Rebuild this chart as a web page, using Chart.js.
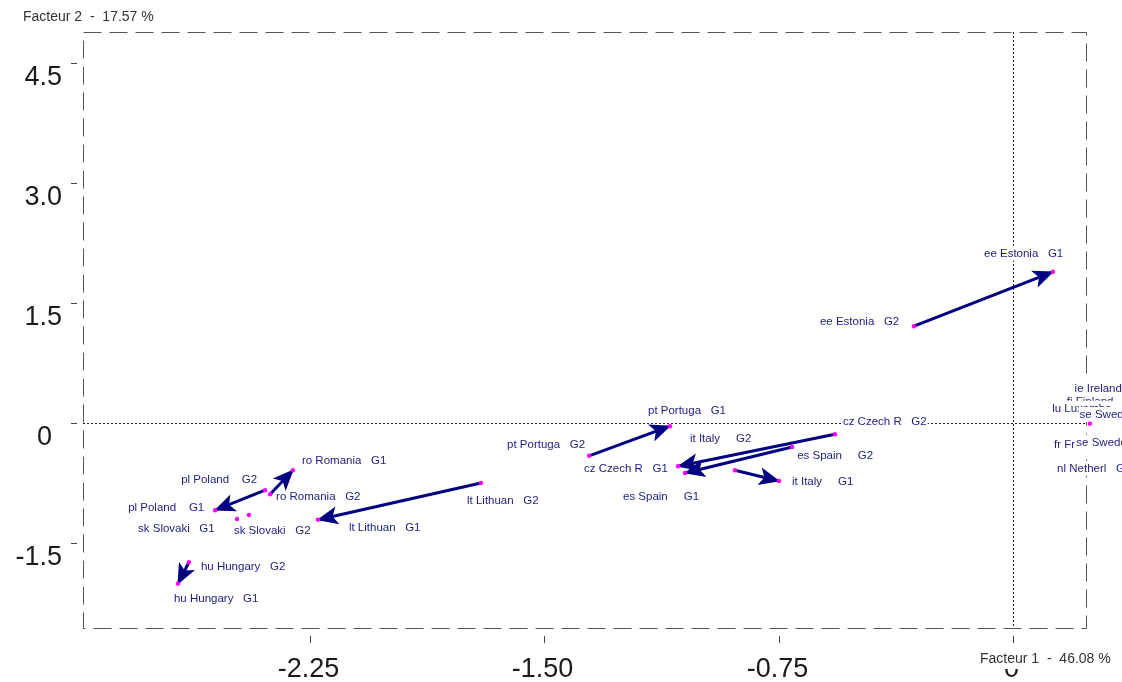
<!DOCTYPE html>
<html><head><meta charset="utf-8">
<script src="https://cdn.jsdelivr.net/npm/chart.js@4.4.1/dist/chart.umd.min.js"></script>
<style>html,body{margin:0;padding:0;background:#fff}#wrap{width:1122px;height:682px;position:relative}</style>
</head><body><div id="wrap"><canvas id="c"></canvas></div>
<script>
// ---- data ----
const pointLabels = [
  'ee Estonia   G1','ee Estonia   G2',
  'pt Portuga   G1','pt Portuga   G2',
  'cz Czech R   G1','cz Czech R   G2',
  'es Spain     G1','es Spain     G2',
  'it Italy     G1','it Italy     G2',
  'lt Lithuan   G1','lt Lithuan   G2',
  'ro Romania   G1','ro Romania   G2',
  'pl Poland    G1','pl Poland    G2',
  'sk Slovaki   G1','sk Slovaki   G2',
  'hu Hungary   G1','hu Hungary   G2',
  'fi Finland   G1','ie Ireland   G1','lu Luxembo   G1','se Sweden    G1',
  'fr France    G1','se Sweden    G2','nl Netherl   G1'
];
const factor1 = [0.128,-0.317, -1.098,-1.357, -1.072,-0.570, -1.050,-0.707, -0.749,-0.890,
  -2.225,-1.703, -2.305,-2.378, -2.554,-2.394, -2.484,-2.446, -2.673,-2.638,
  0.246,0.258,0.247,0.258,0.250,0.254,0.250];
const factor2 = [1.89,1.21, -0.04,-0.41, -0.54,-0.14, -0.625,-0.30, -0.725,-0.59,
  -1.21,-0.75, -0.59,-0.89, -1.09,-0.84, -1.20,-1.15, -2.01,-1.74,
  -0.01,-0.015,-0.06,-0.05,-0.07,-0.035,-0.425];
const arrowFrom = [1,3,5,7,9,11,13,15,19];
const arrowTo   = [0,2,4,6,8,10,12,14,18];
const xTickValues = [-2.25,-1.50,-0.75,0];
const xTickLabels = ['-2.25','-1.50','-0.75','0'];
const yTickValues = [4.5,3.0,1.5,0,-1.5];
const yTickLabels = ['4.5','3.0','1.5','0','-1.5'];
const xTitle = 'Facteur 1  -  46.08 %';
const yTitle = 'Facteur 2  -  17.57 %';

// ---- label placement (pixels relative to point) ----
const labelOffsets = [
  [-69,-18],[-94,-4],
  [-22,-15],[-82,-11],
  [-94,3],[8,-12],
  [-62,24],[5,9],
  [13,1],[-45,-31],
  [31,8],[-14,18],
  [9,-9],[6,3],
  [-87,-2],[-84,-10],
  [-99,10],[-15,16],
  [-4,15],[12,5],
  [-23,-22],[-19,-35],[-38,-19],[-14,-12],
  [-37,16],[-16,17],[-34,12]
];

const NAVY = '#000080';
const LABEL_COLOR = '#1c1c84';
const LABEL_FONT = '11.5px "Liberation Sans", Arial, sans-serif';
const TICK_FONT = '27px "Liberation Sans", Arial, sans-serif';
const TITLE_FONT = '14px "Liberation Sans", Arial, sans-serif';

const decor = {
  id: 'decor',
  beforeDatasetsDraw(chart) {
    const {ctx, chartArea: a, scales: {x, y}} = chart;
    ctx.save();
    // dashed frame
    ctx.strokeStyle = '#555';
    ctx.lineWidth = 1;
    ctx.setLineDash([18, 8]);
    ctx.strokeRect(a.left + 0.5, a.top + 0.5, a.right - a.left, a.bottom - a.top);
    // dotted zero lines
    ctx.setLineDash([2, 2]);
    ctx.strokeStyle = '#222';
    const x0 = Math.round(x.getPixelForValue(0)) + 0.5;
    const y0 = Math.round(y.getPixelForValue(0)) + 0.5;
    ctx.beginPath();
    ctx.moveTo(a.left, y0); ctx.lineTo(a.right, y0);
    ctx.moveTo(x0, a.top); ctx.lineTo(x0, a.bottom);
    ctx.stroke();
    ctx.setLineDash([]);
    // ticks
    ctx.strokeStyle = '#444';
    ctx.fillStyle = '#1a1a1a';
    ctx.font = TICK_FONT;
    yTickValues.forEach((v, i) => {
      const py = Math.round(y.getPixelForValue(v)) + 0.5;
      ctx.beginPath(); ctx.moveTo(71, py); ctx.lineTo(77, py); ctx.stroke();
      ctx.textAlign = 'right'; ctx.textBaseline = 'alphabetic';
      const lab = yTickLabels[i];
      ctx.fillText(lab, lab.length === 1 ? 52 : 62, py + 21);
    });
    xTickValues.forEach((v, i) => {
      const px = Math.round(x.getPixelForValue(v)) + 0.5;
      ctx.beginPath(); ctx.moveTo(px, a.bottom + 8); ctx.lineTo(px, a.bottom + 15); ctx.stroke();
      ctx.textAlign = 'center'; ctx.textBaseline = 'alphabetic';
      ctx.fillText(xTickLabels[i], px - 2, 677);
    });
    // titles with white background
    ctx.font = TITLE_FONT;
    ctx.textAlign = 'left'; ctx.textBaseline = 'middle';
    const drawTitle = (t, tx, ty) => {
      const w = ctx.measureText(t).width;
      ctx.fillStyle = '#fff';
      ctx.fillRect(tx - 2, ty - 9, w + 4, 19);
      ctx.fillStyle = '#333';
      ctx.fillText(t, tx, ty);
    };
    drawTitle(yTitle, 23, 17);
    drawTitle(xTitle, 980, 659);
    // point labels with white background
    ctx.font = LABEL_FONT;
    pointLabels.forEach((t, i) => {
      const px = x.getPixelForValue(factor1[i]) + labelOffsets[i][0];
      const py = y.getPixelForValue(factor2[i]) + labelOffsets[i][1];
      const w = ctx.measureText(t).width;
      ctx.fillStyle = '#fff';
      ctx.fillRect(px - 1, py - 8, w + 2, 15);
      ctx.fillStyle = LABEL_COLOR;
      ctx.fillText(t, px, py);
    });
    ctx.restore();
  },
  afterDatasetDraw(chart, args) {
    const ds = chart.data.datasets[args.index];
    if (!ds.isArrow) return;
    const pts = args.meta.data;
    if (pts.length < 2) return;
    const x1 = pts[0].x, y1 = pts[0].y, x2 = pts[1].x, y2 = pts[1].y;
    const ang = Math.atan2(y2 - y1, x2 - x1);
    const L = 20, W = 9, N = 5;
    const ctx = chart.ctx;
    ctx.save();
    ctx.translate(x2, y2);
    ctx.rotate(ang);
    ctx.fillStyle = NAVY;
    ctx.beginPath();
    ctx.moveTo(1, 0);
    ctx.lineTo(-L, -W);
    ctx.lineTo(-L + N, 0);
    ctx.lineTo(-L, W);
    ctx.closePath();
    ctx.fill();
    ctx.restore();
  }
};

const datasets = [{
  label: 'points',
  data: factor1.map((v, i) => ({x: v, y: factor2[i]})),
  backgroundColor: '#ff00ff',
  borderWidth: 0,
  pointRadius: 2.2,
  showLine: false,
  order: 0,
  clip: false
}];
arrowFrom.forEach((f, k) => {
  const t = arrowTo[k];
  datasets.push({
    label: 'arrow' + k,
    isArrow: true,
    data: [{x: factor1[f], y: factor2[f]}, {x: factor1[t], y: factor2[t]}],
    showLine: true,
    borderColor: NAVY,
    borderWidth: 3,
    pointRadius: 0,
    fill: false,
    tension: 0,
    order: 1,
    clip: false
  });
});

new Chart(document.getElementById('c'), {
  type: 'scatter',
  data: {datasets},
  options: {
    responsive: true,
    maintainAspectRatio: false,
    animation: false,
    devicePixelRatio: 1,
    layout: {padding: {left: 83, right: 36, top: 32, bottom: 54}},
    plugins: {legend: {display: false}, tooltip: {enabled: false}},
    events: [],
    scales: {
      x: {type: 'linear', min: -2.977, max: 0.2337, display: false},
      y: {type: 'linear', min: -2.5625, max: 4.8875, display: false}
    }
  },
  plugins: [decor]
});
</script>
</body></html>
